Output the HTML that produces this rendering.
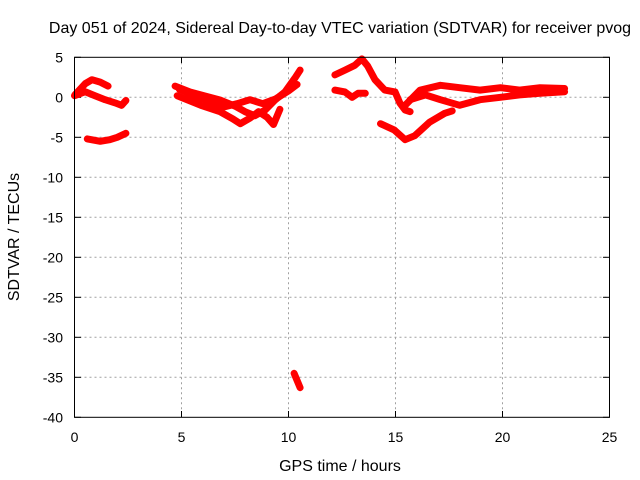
<!DOCTYPE html>
<html><head><meta charset="utf-8"><style>
body{margin:0;background:#fff;}
svg{display:block;font-family:"Liberation Sans",sans-serif;}
</style></head><body>
<svg id="chart" width="640" height="480" xmlns="http://www.w3.org/2000/svg">
<text x="340" y="33" font-size="16" text-anchor="middle">Day 051 of 2024, Sidereal Day-to-day VTEC variation (SDTVAR) for receiver pvog</text>
<text x="340" y="471" font-size="16" text-anchor="middle">GPS time / hours</text>
<text transform="translate(19,237) rotate(-90)" font-size="16" text-anchor="middle">SDTVAR / TECUs</text>
<g id="grid"></g><g id="ticks"></g><g id="marks"></g>
<rect x="74.5" y="57.3" width="535" height="360" fill="none" stroke="#000" stroke-width="1"/>
</svg>
<script>
const xTicks=[0,5,10,15,20,25];
const yTicks=[5,0,-5,-10,-15,-20,-25,-30,-35,-40];
const trackA_h=[0.02,0.5,0.82,1.2,1.57];
const trackA_v=[0.3,1.7,2.2,1.9,1.4];
const trackB_h=[0,0.5,0.96,1.43,1.9,2.2,2.4];
const trackB_v=[0.2,0.7,0.2,-0.3,-0.7,-1,-0.4];
const trackC_h=[0.6,1.2,1.65,2.0,2.4];
const trackC_v=[-5.2,-5.5,-5.3,-5.0,-4.5];
const trackD1_h=[4.7,5.4,6.1,6.8,7.5,7.97,8.43,8.9,9.37,9.83,10.3,10.54];
const trackD1_v=[1.4,0.66,0.16,-0.34,-1.1,-1.8,-2.3,-1.6,-0.34,0.66,2.4,3.4];
const trackD2_h=[4.8,5.9,6.8,7.4,7.75,8.2,8.6,9.0,9.3,9.6];
const trackD2_v=[0.2,-1,-1.8,-2.7,-3.3,-2.6,-1.8,-2.5,-3.4,-1.5];
const trackD3_h=[4.9,5.6,6.3,7.0,7.6,8.2,8.8,9.4,10.0,10.4];
const trackD3_v=[1.0,0.2,-0.5,-1.2,-0.8,-0.3,-0.8,-0.2,0.8,1.6];
const trackE_h=[10.26,10.54];
const trackE_v=[-34.5,-36.3];
const trackF1_h=[12.17,12.64,13.1,13.43,13.7,14.04,14.5,14.98,15.2,15.45,15.68];
const trackF1_v=[2.8,3.4,4.0,4.8,3.9,2.2,0.9,0.66,-0.7,-1.6,-1.8];
const trackF2_h=[12.17,12.64,12.97,13.25,13.59];
const trackF2_v=[0.9,0.66,0,0.5,0.5];
const trackF3_h=[15.45,16.15,17.1,18.0,18.95,19.9,20.8,21.75,22.9];
const trackF3_v=[-1,0.9,1.5,1.2,0.9,1.2,0.9,1.2,1.1];
const trackF4_h=[15.68,16.4,17.1,18.0,18.95,19.9,20.8,21.75,22.9];
const trackF4_v=[-0.3,0.3,-0.3,-1,-0.3,0,0.3,0.5,0.7];
const trackG_h=[14.3,14.95,15.45,15.9,16.6,17.3,17.65];
const trackG_v=[-3.3,-4.1,-5.3,-4.8,-3.1,-2.0,-1.7];

const NS="http://www.w3.org/2000/svg";
const X=h=>74.5+h*535/25;
const Y=v=>57.3+(5-v)*360/45;
function mk(tag,parent,attrs){const e=document.createElementNS(NS,tag);for(const k in attrs)e.setAttribute(k,attrs[k]);parent.appendChild(e);return e;}
const grid=document.getElementById('grid'),ticks=document.getElementById('ticks'),marks=document.getElementById('marks');
xTicks.forEach(t=>{
  if(t>0&&t<25){const g=mk('line',grid,{x1:X(t),x2:X(t),y1:57.3,y2:417.3,stroke:'#a0a0a0','stroke-dasharray':'2,3'});
  
  }
  const l=mk('text',ticks,{x:X(t),y:442,'font-size':14,'text-anchor':'middle'});l.textContent=t;
  
  
  mk('line',ticks,{x1:X(t),x2:X(t),y1:417.3,y2:411,stroke:'#000'});
  mk('line',ticks,{x1:X(t),x2:X(t),y1:57.3,y2:63,stroke:'#000'});
});
yTicks.forEach(t=>{
  if(t<5&&t>-40){const g=mk('line',grid,{x1:74.5,x2:609.5,y1:Y(t),y2:Y(t),stroke:'#a0a0a0','stroke-dasharray':'2,3'});
  
  }
  const l=mk('text',ticks,{x:63,y:Y(t)+5,'font-size':14,'text-anchor':'end'});l.textContent=t;
  
  
  mk('line',ticks,{x1:74.5,x2:81,y1:Y(t),y2:Y(t),stroke:'#000'});
  mk('line',ticks,{x1:603,x2:609.5,y1:Y(t),y2:Y(t),stroke:'#000'});
});
const tracks=[[trackA_h,trackA_v],[trackB_h,trackB_v],[trackC_h,trackC_v],[trackD1_h,trackD1_v],[trackD2_h,trackD2_v],[trackD3_h,trackD3_v],[trackE_h,trackE_v],[trackF1_h,trackF1_v],[trackF2_h,trackF2_v],[trackF3_h,trackF3_v],[trackF4_h,trackF4_v],[trackG_h,trackG_v]];
tracks.forEach(([hs,vs])=>{
  const pts=hs.map((h,i)=>X(h).toFixed(1)+','+Y(vs[i]).toFixed(1)).join(' ');
  const p=mk('polyline',marks,{points:pts,fill:'none',stroke:'#ff0000','stroke-width':7,'stroke-linejoin':'round','stroke-linecap':'round'});
  
  
});
</script>
</body></html>
